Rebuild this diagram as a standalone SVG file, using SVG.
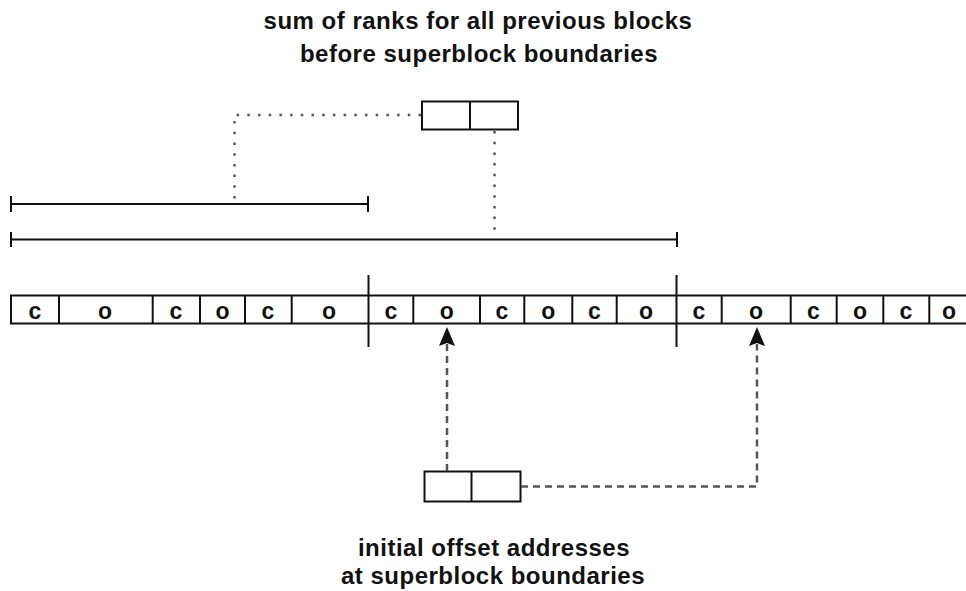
<svg xmlns="http://www.w3.org/2000/svg" width="966" height="591" viewBox="0 0 966 591">
  <style>
    .lbl { font-family: "Liberation Sans", Arial, Helvetica, sans-serif; font-weight: bold; font-size: 24px; fill: #111; text-anchor: middle; letter-spacing: 0.5px; }
    .cell { font-family: "Liberation Sans", Arial, Helvetica, sans-serif; font-weight: bold; font-size: 23px; fill: #111; text-anchor: middle; }
    .box { fill: #fff; stroke: #111; stroke-width: 2; }
    .solid { fill: none; stroke: #111; stroke-width: 2; }
    .dot { fill: none; stroke: #555; stroke-width: 2.5; stroke-dasharray: 2.5 8.2; }
    .dash { fill: none; stroke: #555; stroke-width: 2.5; stroke-dasharray: 7 5; }
  </style>
  <defs>
    <marker id="arrow" markerUnits="userSpaceOnUse" viewBox="-2 -9 21 18" refX="0" refY="0" markerWidth="21" markerHeight="18" orient="auto" overflow="visible">
      <path d="M-2,-8 L17,0 L-2,8 L1,0 Z" fill="#111"/>
    </marker>
  </defs>

  <rect width="966" height="591" fill="#fff"/>

  <!-- titles -->
  <g id="label-top">
    <text class="lbl" x="478" y="29">sum of ranks for all previous blocks</text>
    <text class="lbl" x="479" y="62">before superblock boundaries</text>
  </g>
  <g id="label-bottom">
    <text class="lbl" x="494" y="556">initial offset addresses</text>
    <text class="lbl" x="493" y="584">at superblock boundaries</text>
  </g>

  <!-- range bars -->
  <g id="range-short">
    <path class="solid" d="M11 204 H368 M11 196 V212 M368 196 V212"/>
  </g>
  <g id="range-long">
    <path class="solid" d="M11 239.5 H677 M11 232 V247 M677 232 V247"/>
  </g>

  <!-- bit strip -->
  <g id="strip">
    <rect class="box" x="11" y="295.5" width="962" height="28"/>
    <path class="solid" d="M59 295.5 V323.5 M152.7 295.5 V323.5 M200 295.5 V323.5 M245 295.5 V323.5 M291.7 295.5 V323.5
                           M413.3 295.5 V323.5 M480 295.5 V323.5 M524.3 295.5 V323.5 M572.3 295.5 V323.5 M616.7 295.5 V323.5
                           M721.7 295.5 V323.5 M790.7 295.5 V323.5 M836.7 295.5 V323.5 M883.3 295.5 V323.5 M929.3 295.5 V323.5"/>
    <text class="cell" x="35" y="318.5">c</text>
    <text class="cell" x="105" y="318.5">o</text>
    <text class="cell" x="176" y="318.5">c</text>
    <text class="cell" x="222.5" y="318.5">o</text>
    <text class="cell" x="268" y="318.5">c</text>
    <text class="cell" x="329" y="318.5">o</text>
    <text class="cell" x="391" y="318.5">c</text>
    <text class="cell" x="446.7" y="318.5">o</text>
    <text class="cell" x="502" y="318.5">c</text>
    <text class="cell" x="548.3" y="318.5">o</text>
    <text class="cell" x="594.5" y="318.5">c</text>
    <text class="cell" x="646" y="318.5">o</text>
    <text class="cell" x="699" y="318.5">c</text>
    <text class="cell" x="756" y="318.5">o</text>
    <text class="cell" x="813.5" y="318.5">c</text>
    <text class="cell" x="860" y="318.5">o</text>
    <text class="cell" x="906" y="318.5">c</text>
    <text class="cell" x="949" y="318.5">o</text>
  </g>

  <!-- superblock boundaries -->
  <g id="boundary-1">
    <path class="solid" d="M368.5 275 V347"/>
  </g>
  <g id="boundary-2">
    <path class="solid" d="M676.5 275 V347"/>
  </g>

  <!-- rank table -->
  <g id="rank-table">
    <rect class="box" x="422" y="101.5" width="96" height="28"/>
    <path class="solid" d="M470 101.5 V129.5"/>
  </g>

  <!-- offset table -->
  <g id="offset-table">
    <rect class="box" x="424.5" y="471.5" width="96" height="30"/>
    <path class="solid" d="M471.5 471.5 V501.5"/>
  </g>

  <!-- connectors -->
  <g id="connectors">
    <path class="dot" d="M421 115 H234.5 V203"/>
    <path class="dot" d="M494.5 131 V238"/>
    <path class="dash" d="M447 471 V344" marker-end="url(#arrow)"/>
    <path class="dash" d="M521 486.5 H757 V344" marker-end="url(#arrow)"/>
  </g>
</svg>
